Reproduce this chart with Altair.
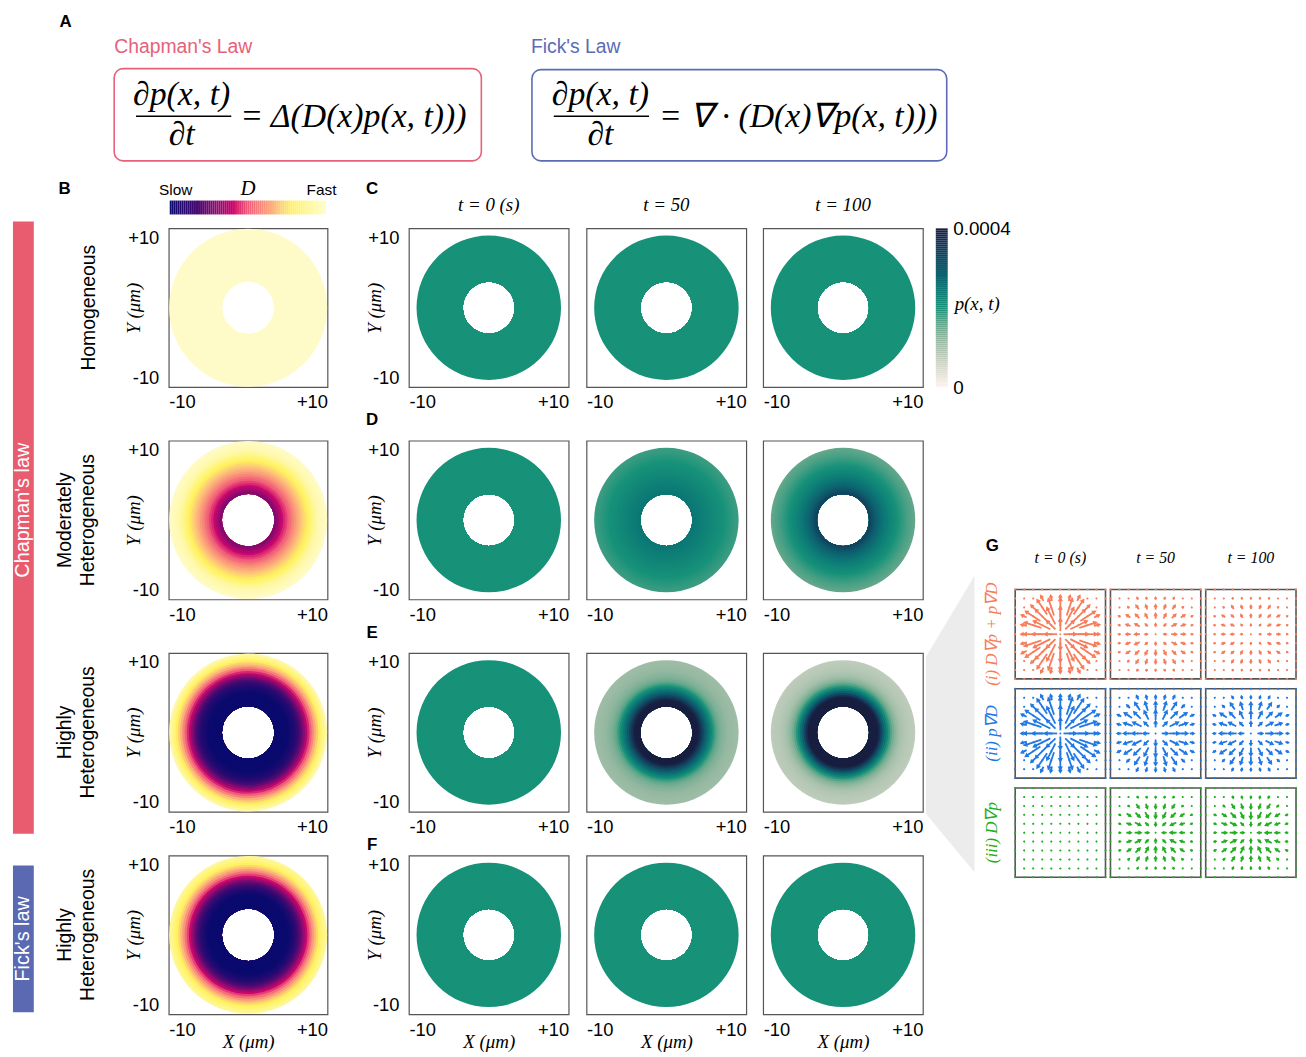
import math
import numpy as np
import pandas as pd
import altair as alt

SANS = "Liberation Sans"
SERIF = "Liberation Serif"
RED = "#e6617a"
BLUE = "#5b6bb6"
BAR_RED = "#e95c70"
BAR_BLUE = "#5a69b2"
ARROW_COLORS = ["#f77d5a", "#1f78e4", "#22b022"]

# ---------------- data ----------------
# ring edges of the annulus (micrometres)
EDGES_D = np.linspace(3.3, 9.95, 25)
EDGES_P = np.linspace(3.27, 9.1, 25)

# diffusivity D (0 = slow, 1 = fast), per ring, inner -> outer
D_HOMOGENEOUS = [1.0] * 24
D_MODERATE = [0.28, 0.32, 0.36, 0.40, 0.44, 0.47, 0.51, 0.54, 0.58, 0.61, 0.64, 0.67,
              0.70, 0.73, 0.76, 0.79, 0.82, 0.85, 0.88, 0.91, 0.93, 0.95, 0.97, 0.99]
D_HIGH = [0.0, 0.0, 0.0, 0.0, 0.0, 0.0, 0.01, 0.03, 0.05, 0.08, 0.12, 0.17,
          0.23, 0.30, 0.37, 0.44, 0.51, 0.58, 0.65, 0.71, 0.77, 0.82, 0.86, 0.90]
D_HIGH_FICK = [0.0, 0.0, 0.0, 0.0, 0.0, 0.0, 0.01, 0.03, 0.06, 0.10, 0.15, 0.20,
               0.26, 0.33, 0.40, 0.47, 0.54, 0.61, 0.67, 0.73, 0.78, 0.82, 0.85, 0.87]

# density p(x,t) in units of 1e-4, per ring, inner -> outer
P_UNIFORM = [2.0] * 24
P_MOD_50 = [2.48, 2.45, 2.42, 2.39, 2.36, 2.33, 2.30, 2.27, 2.24, 2.21, 2.18, 2.15,
            2.12, 2.09, 2.06, 2.03, 2.00, 1.97, 1.94, 1.91, 1.88, 1.85, 1.82, 1.80]
P_MOD_100 = [3.35, 3.20, 3.05, 2.92, 2.80, 2.70, 2.60, 2.50, 2.42, 2.34, 2.27, 2.20,
             2.14, 2.08, 2.02, 1.96, 1.90, 1.85, 1.80, 1.75, 1.70, 1.66, 1.62, 1.58]
P_HIGH_50 = [4.8, 4.5, 4.2, 3.9, 3.6, 3.3, 3.0, 2.75, 2.5, 2.25, 2.0, 1.8,
             1.62, 1.5, 1.4, 1.33, 1.28, 1.24, 1.2, 1.17, 1.15, 1.13, 1.11, 1.1]
P_HIGH_100 = [5.2, 5.0, 4.7, 4.4, 4.1, 3.7, 3.3, 2.9, 2.55, 2.2, 1.9, 1.65,
              1.45, 1.3, 1.18, 1.08, 1.0, 0.95, 0.9, 0.87, 0.84, 0.82, 0.8, 0.78]

ROWS = [
    (D_HOMOGENEOUS, [P_UNIFORM, P_UNIFORM, P_UNIFORM]),
    (D_MODERATE, [P_UNIFORM, P_MOD_50, P_MOD_100]),
    (D_HIGH, [P_UNIFORM, P_HIGH_50, P_HIGH_100]),
    (D_HIGH_FICK, [P_UNIFORM, P_UNIFORM, P_UNIFORM]),
]
PANEL_LETTERS = ["C", "D", "E", "F"]
TIME_LABELS = ["t = 0 (s)", "t = 50", "t = 100"]

# quiver magnitudes per radial bin (0-2, 2-4, 4-6, 6-8, 8-10, >10 um); negative = inward
QUIVER_GRID = list(range(-10, 11, 2))
QUIVER = [
    [[0.15, 2.6, 4.0, 3.8, 1.2, 0.15], [0.15, 0.7, 1.1, 1.0, 0.5, 0.15], [0.15, 0.5, 0.8, 0.8, 0.4, 0.15]],
    [[0.15, 2.6, 4.0, 3.8, 1.2, 0.15], [0.15, 1.3, 2.0, 1.9, 0.9, 0.15], [0.15, 1.1, 1.7, 1.6, 0.7, 0.15]],
    [[0.15] * 6, [-0.15, -0.9, -1.3, -1.0, -0.5, -0.15], [-0.15, -0.9, -1.4, -1.1, -0.6, -0.15]],
]
QUIVER_LABELS = ["(i) D∇p + p∇D", "(ii) p∇D", "(iii) D∇p"]

# colour maps
D_DOMAIN = [0, 0.15, 0.3, 0.4, 0.5, 0.62, 0.7, 0.78, 0.9, 1.0]
D_RANGE = ["#0a0a6e", "#3c0a72", "#8a0a70", "#c8066c", "#f0587a", "#fb9c7a", "#fdc878", "#fff25c", "#fff8a8", "#fffbc9"]
P_DOMAIN = [0, 0.4, 0.8, 1.2, 1.6, 2.0, 2.4, 2.8, 3.2, 3.6, 4.0]
P_RANGE = ["#fdf3f1", "#e0dfd4", "#bccbb9", "#94b8a0", "#5fa68a", "#179279", "#0c7b76", "#0d6470", "#0f4c64", "#163555", "#171e40"]

D_SCALE = alt.Scale(domain=D_DOMAIN, range=D_RANGE, clamp=True, interpolate="rgb")
P_SCALE = alt.Scale(domain=P_DOMAIN, range=P_RANGE, clamp=True, interpolate="rgb")

ONE = pd.DataFrame({"a": [1]})
LBL = "datum.value > 0 ? '+10' : '-10'"
FRAME = alt.ViewBackground(stroke="#555555", strokeWidth=1.2)

# grid layout (column widths / row heights in px)
COL_W = [157, 242, 179, 178, 163, 374]
ROW_H = [218, 214, 214, 204, 160]


# ---------------- helpers ----------------
def T(text, x, y, size=18, font=SANS, color="black", angle=0, align="center",
      baseline="middle", weight="normal", style="normal"):
    return alt.Chart(ONE).mark_text(
        text=text, fontSize=size, font=font, color=color, angle=angle, align=align,
        baseline=baseline, fontWeight=weight, fontStyle=style
    ).encode(x=alt.value(x), y=alt.value(y))


def R(x0, x1, y0, y1, color):
    return alt.Chart(ONE).mark_rect(color=color).encode(
        x=alt.value(x0), x2=alt.value(x1), y=alt.value(y0), y2=alt.value(y1))


def box(x0, x1, y0, y1, color):
    return alt.Chart(ONE).mark_rect(cornerRadius=9, fill="white", stroke=color, strokeWidth=1.6).encode(
        x=alt.value(x0), x2=alt.value(x1), y=alt.value(y0), y2=alt.value(y1))


def hline(x0, x1, y):
    return alt.Chart(ONE).mark_rule(color="black", strokeWidth=1.6).encode(
        x=alt.value(x0), x2=alt.value(x1), y=alt.value(y))


def spacer(w, h):
    return alt.Chart(ONE).mark_point(opacity=0, size=1, strokeWidth=0).encode(
        x=alt.value(w / 2), y=alt.value(h / 2)).properties(width=w, height=h)


def ring_df(values, edges):
    rows = [{"r0": float(edges[0]), "r1": float(edges[i + 1]), "v": v} for i, v in enumerate(values)]
    return pd.DataFrame(rows[::-1])


def heat(values, edges, scale, w, show_y=True, xtitle=False, extra=(), indep_x=False):
    h = 160
    xa = dict(values=[-10, 10], labelExpr=LBL, labelFlush=True, ticks=False, domain=False, grid=False,
              labelPadding=6, labelFont=SANS, labelFontSize=18.5, labelColor="black")
    if xtitle:
        xa.update(title="X (μm)", titleFont=SERIF, titleFontStyle="italic", titleFontWeight="normal",
                  titleFontSize=19, titleX=w / 2, titleY=27, titleBaseline="middle", titleAlign="center",
                  titleColor="black")
    else:
        xa["title"] = None
    ya = dict(values=[-10, 10], labelExpr=LBL, labelFlush=True, ticks=False, domain=False, grid=False,
              labelPadding=10, labelFont=SANS, labelFontSize=18.5, labelColor="black",
              title="Y (μm)", titleFont=SERIF, titleFontStyle="italic", titleFontWeight="normal",
              titleFontSize=19, titleX=-35, titleY=h / 2, titleAngle=270, titleBaseline="middle",
              titleAlign="center", titleColor="black")
    sc = alt.Scale(domain=[-10, 10], nice=False, zero=False)
    base = alt.Chart(pd.DataFrame({"x": [-10, 10], "y": [-10, 10]})).mark_point(
        opacity=0, size=1, strokeWidth=0).encode(
        x=alt.X("x:Q", scale=sc, axis=alt.Axis(**xa)),
        y=alt.Y("y:Q", scale=sc, axis=alt.Axis(**ya) if show_y else None),
    )
    rings = alt.Chart(ring_df(values, edges)).mark_arc(theta=0, theta2=2 * math.pi).encode(
        radius=alt.Radius("r1:Q", scale=alt.Scale(type="linear", domain=[0, 10], range=[0, 80], zero=True)),
        radius2=alt.Radius2("r0:Q"),
        color=alt.Color("v:Q", scale=scale, legend=None),
    )
    lay = alt.layer(base, rings, *extra).properties(width=w, height=h, view=FRAME)
    if indep_x:
        lay = lay.resolve_scale(x="independent")
    return lay


def quiver_panel(mags, color, px, py):
    """One quiver panel whose scales map [-10, 10] onto the pixel box starting at (px, py)."""
    rows = []
    for gx in QUIVER_GRID:
        for gy in QUIVER_GRID:
            r = math.hypot(gx, gy)
            m = mags[min(int(r // 2), 5)] if r > 0 else 0.0
            ux, uy = (gx / r, gy / r) if r > 0 else (0.0, 1.0)
            dx, dy = ux * m, uy * m
            rows.append({
                "x": gx, "y": gy,
                "x0": gx - dx / 2, "y0": gy - dy / 2, "x1": gx + dx / 2, "y1": gy + dy / 2,
                "ang": (90 - math.degrees(math.atan2(dy, dx))) % 360 if m != 0 else 0.0,
                "mag": abs(m),
            })
    df = pd.DataFrame(rows)
    sx = alt.Scale(domain=[-10, 10], range=[px, px + 91], nice=False, zero=False)
    sy = alt.Scale(domain=[-10, 10], range=[py + 90, py], nice=False, zero=False)
    X = lambda f: alt.X(f"{f}:Q", scale=sx, axis=None)
    Y = lambda f: alt.Y(f"{f}:Q", scale=sy, axis=None)
    frame = alt.Chart(pd.DataFrame({"lo": [-10], "hi": [10]})).mark_rect(
        fill="white", stroke="#555555", strokeWidth=1.6).encode(x=X("lo"), x2="hi", y=Y("lo"), y2="hi")
    shafts = alt.Chart(df).mark_rule(color=color, strokeWidth=1.8).encode(
        x=X("x0"), y=Y("y0"), x2="x1", y2="y1")
    heads = alt.Chart(df).mark_point(shape="triangle-up", filled=True, color=color, opacity=1).encode(
        x=X("x1"), y=Y("y1"), angle=alt.Angle("ang:Q", scale=None),
        size=alt.Size("mag:Q", scale=alt.Scale(domain=[0, 1.5], range=[0, 28], clamp=True), legend=None))
    dots = alt.Chart(df).mark_circle(color=color, size=4, opacity=1).encode(x=X("x"), y=Y("y"))
    return alt.layer(frame, shafts, heads, dots)


# ---------------- panel A ----------------
EQ = dict(font=SERIF, style="italic", size=34)
chart_a = alt.layer(
    T("A", 53, 15, size=17, weight="bold", baseline="alphabetic"),
    T("Chapman's Law", 102, 35, size=19.5, color=RED, align="left"),
    box(102, 472, 57, 150, RED),
    T("∂p(x, t)", 170, 84, **EQ),
    hline(124, 220, 105),
    T("∂t", 170, 124, **EQ),
    T("= Δ(D(x)p(x, t)))", 229, 106, align="left", **EQ),
    T("Fick's Law", 522, 35, size=19.5, color=BLUE, align="left"),
    box(523, 941, 58, 150, BLUE),
    T("∂p(x, t)", 592, 84, **EQ),
    hline(545, 641, 105),
    T("∂t", 592, 124, **EQ),
    T("= ∇ · (D(x)∇p(x, t)))", 651, 106, align="left", **EQ),
).properties(width=COL_W[0], height=ROW_H[0])

# ---------------- left decorations ----------------
ROWLAB = dict(size=19.5, angle=270)
left = alt.layer(
    T("B", 52, -40, size=17, weight="bold"),
    R(0, 21, -7, 610, BAR_RED),
    T("Chapman's law", 10.5, 284, size=20, color="white", angle=270),
    R(0, 21, 642, 790, BAR_BLUE),
    T("Fick's law", 10.5, 716, size=20, color="white", angle=270),
    T("Homogeneous", 77, 80, **ROWLAB),
    T("Moderately", 52, 294, **ROWLAB),
    T("Heterogeneous", 76, 294, **ROWLAB),
    T("Highly", 52, 508, **ROWLAB),
    T("Heterogeneous", 76, 508, **ROWLAB),
    T("Highly", 52, 712, **ROWLAB),
    T("Heterogeneous", 76, 712, **ROWLAB),
).properties(width=COL_W[0], height=ROW_H[1])

# ---------------- D colour bar (above panel B) ----------------
grad_vals = np.linspace(0, 1, 81)
grad_df = pd.DataFrame({"g0": grad_vals[:-1], "g1": grad_vals[1:], "v": (grad_vals[:-1] + grad_vals[1:]) / 2})
grad = alt.Chart(grad_df).mark_rect().encode(
    x=alt.X("g0:Q", scale=alt.Scale(domain=[0, 1], range=[1, 158], nice=False, zero=False), axis=None),
    x2="g1", y=alt.value(-28), y2=alt.value(-14),
    color=alt.Color("v:Q", scale=D_SCALE, legend=None))
d_bar = [grad,
         T("Slow", 7, -39, size=15.5),
         T("D", 80, -40, size=21, font=SERIF, style="italic"),
         T("Fast", 154, -39, size=15.5)]

# ---------------- p colour bar ----------------
cb_vals = np.linspace(0, 4, 81)
cb_df = pd.DataFrame({"v0": cb_vals[:-1], "v1": cb_vals[1:], "v": (cb_vals[:-1] + cb_vals[1:]) / 2})
cbar = alt.layer(
    alt.Chart(cb_df).mark_rect().encode(
        x=alt.value(11), x2=alt.value(23),
        y=alt.Y("v0:Q", scale=alt.Scale(domain=[0, 4], nice=False, zero=False),
                axis=alt.Axis(orient="right", values=[0, 4],
                              labelExpr="datum.value == 0 ? '0' : '0.0004'",
                              ticks=False, domain=False, grid=False, labelPadding=5,
                              labelFont=SANS, labelFontSize=19, labelColor="black", title=None)),
        y2="v1",
        color=alt.Color("v:Q", scale=P_SCALE, legend=None)),
    T("p(x, t)", 30, 76, size=19, font=SERIF, style="italic", align="left"),
).properties(width=23, height=160)

# ---------------- panel G (one chart, each panel with its own scales) ----------------
WEDGE = "M-0.164,-0.4515 L0.164,-1 L0.164,1 L-0.164,0.605 Z"
g_layers = [
    alt.Chart(ONE).mark_point(shape=WEDGE, filled=True, color="#ececec", opacity=1, strokeWidth=0).encode(
        x=alt.value(25.5), y=alt.value(285.5), size=alt.value(89401)),
    T("G", 68, 106, size=17, weight="bold"),
]
for k in range(3):
    g_layers.append(T(QUIVER_LABELS[k], 68, 195 + 100 * k, size=17, font=SERIF, style="italic",
                      color=ARROW_COLORS[k], angle=270))
for j in range(3):
    g_layers.append(T(TIME_LABELS[j], 136.5 + 96 * j, 118, size=16, font=SERIF, style="italic"))
for k in range(3):
    for j in range(3):
        g_layers.append(quiver_panel(QUIVER[k][j], ARROW_COLORS[k], 91 + 96 * j, 150 + 100 * k))
g_block = alt.layer(*g_layers).resolve_scale(x="independent", y="independent").properties(
    width=COL_W[5], height=ROW_H[2])

# ---------------- assemble grid ----------------
cells = [chart_a] + [spacer(w, 1) for w in COL_W[1:]]
right_cells = [cbar, g_block, spacer(1, 1), spacer(1, 1)]
letter_y = [-40, -21, -20, -11]
for i, (dvals, pvals) in enumerate(ROWS):
    last = i == len(ROWS) - 1
    cells.append(left if i == 0 else spacer(1, ROW_H[i + 1]))
    cells.append(heat(dvals, EDGES_D, D_SCALE, 160, xtitle=last,
                      extra=d_bar if i == 0 else (), indep_x=(i == 0)))
    for j, pv in enumerate(pvals):
        extra = []
        if j == 0:
            extra.append(T(PANEL_LETTERS[i], -37, letter_y[i], size=17, weight="bold"))
        if i == 0:
            extra.append(T(TIME_LABELS[j], 80.5, -23, size=19, font=SERIF, style="italic"))
        cells.append(heat(pv, EDGES_P, P_SCALE, 161, show_y=(j == 0), xtitle=last, extra=extra))
    cells.append(right_cells[i])

chart = alt.concat(*cells, columns=6, spacing=0, bounds="flush", align="each").resolve_scale(
    color="independent", size="independent"
).properties(
    padding={"left": 5, "top": 0, "right": 0, "bottom": 0}
).configure(font=SANS).configure_view(stroke=None)

chart.save("out.html", embed_options={"renderer": "svg", "actions": False})
